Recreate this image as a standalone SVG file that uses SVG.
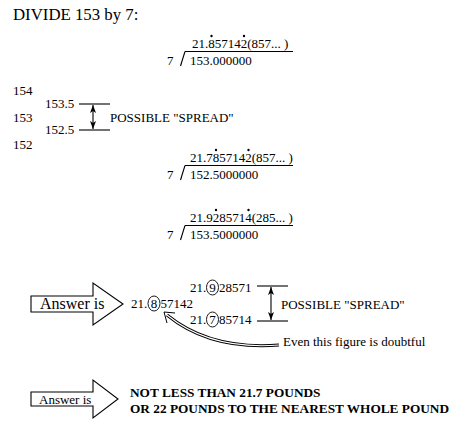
<svg xmlns="http://www.w3.org/2000/svg" width="460" height="431" viewBox="0 0 460 431">
<style>
.t{font-family:"Liberation Serif","Times New Roman",serif;font-size:13px;fill:#000}
.b{font-weight:bold;font-size:13.3px}
.ln{stroke:#000;stroke-width:1.1;fill:none}
.dot{fill:#000}
.ring{fill:none;stroke:#000;stroke-width:0.9}
.big{fill:#fff;stroke:#000;stroke-width:1.1}
</style>
<defs>
<marker id="ah" markerUnits="userSpaceOnUse" markerWidth="8" markerHeight="6" refX="8" refY="3" orient="auto-start-reverse">
<path d="M0,0 L8,3 L0,6 L2,3 z" fill="#000"/>
</marker>
</defs>
<rect width="460" height="431" fill="#fff"/>

<g id="title"><text class="t" x="13" y="20" style="font-size:16.8px">DIVIDE 153 by 7:</text></g>

<g id="division1">
<text class="t" x="192" y="48">21.857142(857... )</text>
<circle class="dot" cx="211.5" cy="36" r="1.2"/><circle class="dot" cx="244" cy="36" r="1.2"/>
<line class="ln" x1="185" y1="51.5" x2="293" y2="51.5"/>
<line class="ln" x1="185" y1="51.5" x2="180.5" y2="66"/>
<text class="t" x="167" y="65">7</text>
<text class="t" x="190" y="65">153.000000</text>
</g>

<g id="scale">
<text class="t" x="13" y="95">154</text>
<text class="t" x="13" y="122">153</text>
<text class="t" x="13" y="149">152</text>
<text class="t" x="45" y="108">153.5</text>
<text class="t" x="45" y="134">152.5</text>
<line class="ln" x1="79" y1="104" x2="110" y2="104"/>
<line class="ln" x1="79" y1="130" x2="110" y2="130"/>
<text class="t" x="110" y="122">POSSIBLE "SPREAD"</text>
</g>

<g id="division2">
<text class="t" x="190" y="162">21.7857142(857... )</text>
<circle class="dot" cx="216" cy="150" r="1.2"/><circle class="dot" cx="248.5" cy="150" r="1.2"/>
<line class="ln" x1="185" y1="165.5" x2="293" y2="165.5"/>
<line class="ln" x1="185" y1="165.5" x2="180.5" y2="180"/>
<text class="t" x="167" y="179">7</text>
<text class="t" x="190" y="179">152.5000000</text>
</g>

<g id="division3">
<text class="t" x="190" y="222">21.9285714(285... )</text>
<circle class="dot" cx="216" cy="210" r="1.2"/><circle class="dot" cx="248.5" cy="210" r="1.2"/>
<line class="ln" x1="185" y1="225.5" x2="293" y2="225.5"/>
<line class="ln" x1="185" y1="225.5" x2="180.5" y2="240"/>
<text class="t" x="167" y="239">7</text>
<text class="t" x="190" y="239">153.5000000</text>
</g>

<g id="answer1">
<polygon class="big" points="31,296 93,296 93,283 123,304 93,325 93,312 31,312"/>
<text class="t" x="40" y="309" style="font-size:16px">Answer is</text>
</g>

<g id="result">
<text class="t" x="131" y="308">21.</text>
<ellipse class="ring" cx="154" cy="303.5" rx="6" ry="7.5"/>
<text class="t" x="154" y="308" text-anchor="middle">8</text>
<text class="t" x="160.5" y="308">57142</text>
</g>

<g id="upper">
<text class="t" x="190" y="292">21.</text>
<ellipse class="ring" cx="212.5" cy="287.5" rx="6" ry="7.5"/>
<text class="t" x="212.5" y="292" text-anchor="middle">9</text>
<text class="t" x="219" y="292">28571</text>
</g>

<g id="lower">
<text class="t" x="190" y="324">21.</text>
<ellipse class="ring" cx="212.5" cy="319.5" rx="6" ry="7.5"/>
<text class="t" x="212.5" y="324" text-anchor="middle">7</text>
<text class="t" x="219" y="324">85714</text>
</g>

<g id="spread2">
<line class="ln" x1="257" y1="286" x2="288" y2="286"/>
<line class="ln" x1="257" y1="321" x2="288" y2="321"/>
<text class="t" x="281" y="309">POSSIBLE "SPREAD"</text>
</g>

<g id="note"><text class="t" x="283" y="346">Even this figure is doubtful</text></g>

<g id="answer2">
<polygon class="big" points="31,392 93,392 93,380 118,399 93,418 93,406 31,406"/>
<text class="t" x="39" y="404">Answer is</text>
<text class="t b" x="130" y="397">NOT LESS THAN 21.7 POUNDS</text>
<text class="t b" x="130" y="413">OR 22 POUNDS TO THE NEAREST WHOLE POUND</text>
</g>

<g id="connectors">
<line class="ln" x1="93" y1="105" x2="93" y2="129" stroke-width="1.3" marker-start="url(#ah)" marker-end="url(#ah)"/>
<line class="ln" x1="271" y1="287" x2="271" y2="320" stroke-width="1.3" marker-start="url(#ah)" marker-end="url(#ah)"/>
<path d="M279,345 C240,348 200,342 167,315" fill="none" stroke="#000" stroke-width="3"/>
<path d="M279,345 C240,348 200,342 167,315" fill="none" stroke="#fff" stroke-width="1.1"/>
<polyline points="175,313 164,312 167,323" fill="none" stroke="#000" stroke-width="1"/>
</g>
</svg>
